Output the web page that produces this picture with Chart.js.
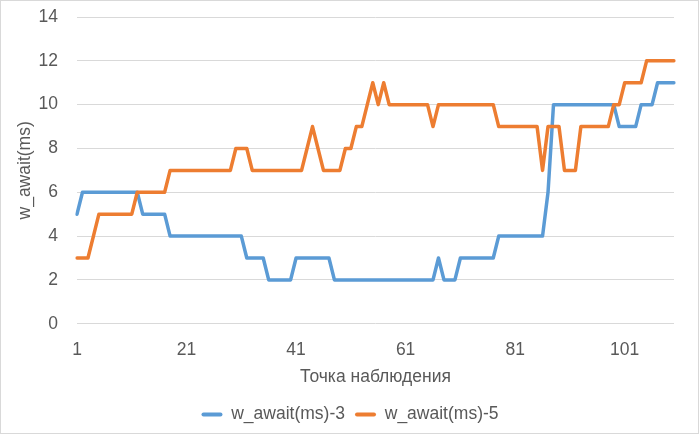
<!DOCTYPE html>
<html>
<head>
<meta charset="utf-8">
<script src="https://cdn.jsdelivr.net/npm/chart.js@4"></script>
<style>
  html, body { margin: 0; padding: 0; background: #ffffff; }
  #wrap { width: 700px; height: 435px; position: relative; }
</style>
</head>
<body>
<div id="wrap"><canvas id="c" width="700" height="435"></canvas></div>
<script>
const categories = [
  1,2,3,4,5,6,7,8,9,10,
  11,12,13,14,15,16,17,18,19,20,
  21,22,23,24,25,26,27,28,29,30,
  31,32,33,34,35,36,37,38,39,40,
  41,42,43,44,45,46,47,48,49,50,
  51,52,53,54,55,56,57,58,59,60,
  61,62,63,64,65,66,67,68,69,70,
  71,72,73,74,75,76,77,78,79,80,
  81,82,83,84,85,86,87,88,89,90,
  91,92,93,94,95,96,97,98,99,100,
  101,102,103,104,105,106,107,108,109,110
];

const series3 = [
  5,6,6,6,6,6,6,6,6,6,
  6,6,5,5,5,5,5,4,4,4,
  4,4,4,4,4,4,4,4,4,4,
  4,3,3,3,3,2,2,2,2,2,
  3,3,3,3,3,3,3,2,2,2,
  2,2,2,2,2,2,2,2,2,2,
  2,2,2,2,2,2,3,2,2,2,
  3,3,3,3,3,3,3,4,4,4,
  4,4,4,4,4,4,6,10,10,10,
  10,10,10,10,10,10,10,10,10,9,
  9,9,9,10,10,10,11,11,11,11
];

const series5 = [
  3,3,3,4,5,5,5,5,5,5,
  5,6,6,6,6,6,6,7,7,7,
  7,7,7,7,7,7,7,7,7,8,
  8,8,7,7,7,7,7,7,7,7,
  7,7,8,9,8,7,7,7,7,8,
  8,9,9,10,11,10,11,10,10,10,
  10,10,10,10,10,9,10,10,10,10,
  10,10,10,10,10,10,10,9,9,9,
  9,9,9,9,9,7,9,9,9,7,
  7,7,9,9,9,9,9,9,10,10,
  11,11,11,11,12,12,12,12,12,12
];

const seriesNames = ['w_await(ms)-3', 'w_await(ms)-5'];
const xTickLabels = ['1', '21', '41', '61', '81', '101'];
const yTickValues = [0, 2, 4, 6, 8, 10, 12, 14];
const xTitle = 'Точка наблюдения';
const yTitle = 'w_await(ms)';

const FONT = 'Liberation Sans, Arial, sans-serif';
const FS = 17.5;
const TEXT = '#595959';
const GRID = '#D9D9D9';

const borderPlugin = {
  id: 'chartBorder',
  afterDraw(chart) {
    const ctx = chart.ctx;
    ctx.save();
    ctx.strokeStyle = GRID;
    ctx.lineWidth = 1;
    ctx.strokeRect(0.5, 0.5, 698, 433);
    ctx.restore();
  }
};

new Chart(document.getElementById('c'), {
  type: 'line',
  data: {
    labels: categories.map(String),
    datasets: [
      {
        label: seriesNames[0],
        data: series3,
        borderColor: '#5B9BD5',
        backgroundColor: '#5B9BD5',
        borderWidth: 3.5,
        pointRadius: 0,
        pointHoverRadius: 0,
        tension: 0,
        borderJoinStyle: 'round',
        borderCapStyle: 'round',
        fill: false,
        order: 1
      },
      {
        label: seriesNames[1],
        data: series5,
        borderColor: '#ED7D31',
        backgroundColor: '#ED7D31',
        borderWidth: 3.5,
        pointRadius: 0,
        pointHoverRadius: 0,
        tension: 0,
        borderJoinStyle: 'round',
        borderCapStyle: 'round',
        fill: false,
        order: 0
      }
    ]
  },
  options: {
    responsive: false,
    animation: false,
    devicePixelRatio: 1,
    layout: { padding: { left: 26, right: 26, top: 17, bottom: 1.75 } },
    font: { family: FONT, size: FS },
    color: TEXT,
    plugins: {
      tooltip: { enabled: false },
      legend: {
        position: 'bottom',
        align: 'center',
        labels: {
          font: { family: FONT, size: FS },
          color: TEXT,
          boxWidth: 21,
          boxHeight: 4,
          padding: 10,
          useBorderRadius: true,
          borderRadius: 2,
          generateLabels(chart) {
            return chart.data.datasets.map((ds, i) => ({
              text: ds.label,
              fillStyle: ds.borderColor,
              strokeStyle: ds.borderColor,
              lineWidth: 0,
              borderRadius: 2,
              hidden: false,
              datasetIndex: i,
              fontColor: TEXT
            }));
          }
        }
      }
    },
    scales: {
      x: {
        type: 'category',
        offset: false,
        grid: { display: false, drawTicks: false },
        border: { display: false },
        ticks: {
          autoSkip: false,
          maxRotation: 0,
          minRotation: 0,
          padding: 15.5,
          color: TEXT,
          font: { family: FONT, size: FS },
          callback(value) {
            const lab = this.getLabelForValue(value);
            return xTickLabels.includes(lab) ? lab : null;
          }
        },
        title: {
          display: true,
          text: xTitle,
          color: TEXT,
          font: { family: FONT, size: FS },
          padding: { top: 0, bottom: 8.5 }
        },
        afterFit(scale) { scale.height = 72; }
      },
      y: {
        min: 0,
        max: 14,
        grid: { color: GRID, lineWidth: 1, drawTicks: true, tickLength: 19, tickColor: 'rgba(0,0,0,0)' },
        border: { display: false },
        afterBuildTicks(scale) {
          scale.ticks = yTickValues.map(v => ({ value: v }));
        },
        ticks: {
          padding: 0,
          color: TEXT,
          font: { family: FONT, size: FS }
        },
        title: {
          display: true,
          text: yTitle,
          color: TEXT,
          font: { family: FONT, size: FS },
          padding: { top: -11.5, bottom: 0 }
        },
        afterFit(scale) { scale.width = 51; }
      }
    }
  },
  plugins: [borderPlugin]
});
</script>
</body>
</html>
